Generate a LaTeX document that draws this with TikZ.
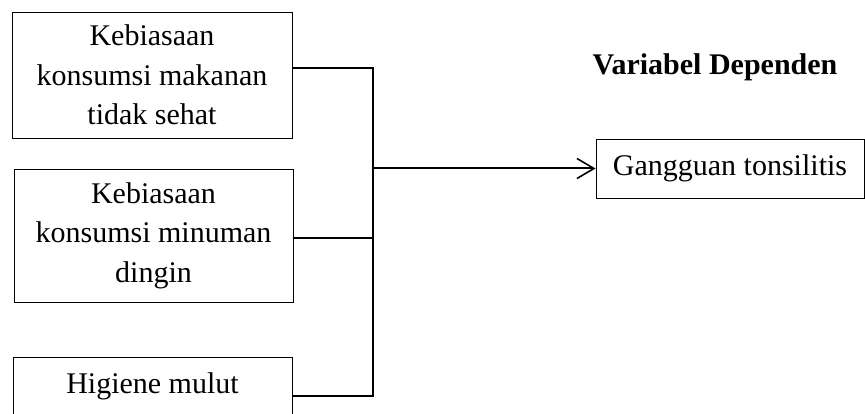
\documentclass[tikz,border=0pt]{standalone}
\usepackage{fontspec}
\setmainfont{Liberation Serif}
\usetikzlibrary{arrows.meta}
\begin{document}
\begin{tikzpicture}[x=1pt,y=1pt,
  box/.style={draw, line width=0.9pt, align=center, inner sep=0pt,
    font=\fontsize{30}{39.5}\selectfont},
  conn/.style={line width=2pt, line join=miter},
  arr/.style={line width=2pt, -{Straight Barb[length=17pt,width=20pt,line width=1.6pt]}}]
  \useasboundingbox (0,0) rectangle (865,414);
  \clip (0,0) rectangle (865,414);

  % independent variables
  \node[box, minimum width=280, minimum height=126] (b1) at (152,339)
    {Kebiasaan\\konsumsi makanan\\tidak sehat};
  \node[box, minimum width=279, minimum height=133] (b2) at (153.5,178.5)
    {Kebiasaan\\konsumsi minuman\\dingin};
  \node[box, anchor=north, minimum width=279, inner ysep=15pt,
    text height=21pt, text depth=50pt] (b3) at (152.5,57)
    {Higiene mulut};

  % dependent variable
  \node[box, minimum width=268, minimum height=59] (dep) at (730,245.5)
    {Gangguan tonsilitis};
  \node[anchor=base, font=\fontsize{30}{36}\selectfont\bfseries] (title)
    at (715,339) {Variabel Dependen};

  % bracket joining the three boxes
  \coordinate (top) at (373,346);
  \coordinate (mid) at (373,245.5);
  \coordinate (bot) at (373,18);
  \coordinate (lvl2) at (0,176);
  \draw[conn] (b1.east |- top) -- (top) -- (bot) -- (b3.east |- bot);
  \draw[conn] (b2.east |- lvl2) -- (top |- lvl2);
  \draw[arr] (mid) -- (dep.west);
\end{tikzpicture}
\end{document}
